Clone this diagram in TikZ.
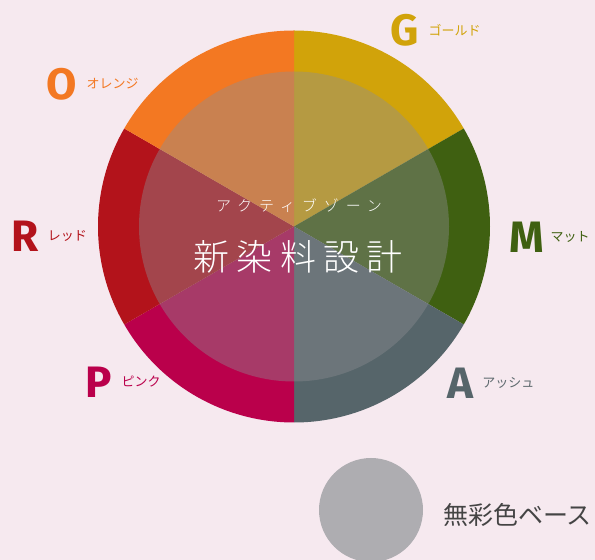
\documentclass[tikz,border=0pt]{standalone}
\usepackage{fontspec}
\usetikzlibrary{positioning}
\newfontfamily\jp{Noto Sans CJK JP}
\newfontfamily\jpwide[LetterSpace=46]{Noto Sans CJK JP Light}
\newfontfamily\jptitle[LetterSpace=20]{Noto Sans CJK JP Light}
\newfontfamily\din{Fira Sans}
\definecolor{bg}{RGB}{246,233,239}
\definecolor{cgold}{RGB}{209,163,10}
\definecolor{cgreen}{RGB}{63,96,17}
\definecolor{cash}{RGB}{86,101,106}
\definecolor{cpink}{RGB}{186,0,75}
\definecolor{cred}{RGB}{179,19,27}
\definecolor{corange}{RGB}{243,120,34}
\definecolor{ovl}{RGB}{141,142,146}
\definecolor{base}{RGB}{174,173,177}
\definecolor{txt}{RGB}{68,68,68}

\begin{document}
\begin{tikzpicture}[x=1pt,y=1pt,
  letter/.style={font=\din\bfseries\fontsize{44}{44}\selectfont, inner sep=0pt},
  kana/.style={font=\jp\fontsize{13}{13}\selectfont, inner sep=0pt, right=9pt of #1}]
  \fill [bg] (0,0) rectangle (595,560);
  \useasboundingbox (0,0) rectangle (595,560);

  % colour wheel
  \coordinate (c) at (294,333.5);
  \foreach \a/\col in {30/cgold, -30/cgreen, -90/cash, -150/cpink, 150/cred, 90/corange}
    \fill [\col] (c) -- ++(\a:196) arc (\a:\a+60:196) -- cycle;
  \fill [ovl, opacity=0.41] (c) circle (155);

  \node [font=\jpwide\fontsize{15}{15}\selectfont, white] (zone) at (299,354) {アクティブゾーン};
  \node [font=\jptitle\fontsize{36}{36}\selectfont, white] (title) at (298,303) {新染料設計};

  % labels
  \node [letter, cgold] (G) at (405,530) {G};
  \node [kana=G, cgold] (Gt) {ゴールド};
  \node [letter, corange] (O) at (62,476) {O};
  \node [kana=O, corange] (Ot) {オレンジ};
  \node [letter, cred] (R) at (25,324) {R};
  \node [kana=R, cred] (Rt) {レッド};
  \node [letter, cgreen] (M) at (527,323) {M};
  \node [kana=M, cgreen, right=6pt of M] (Mt) {マット};
  \node [letter, cpink] (P) at (99,178) {P};
  \node [kana=P, cpink] (Pt) {ピンク};
  \node [letter, cash] (A) at (460,177) {A};
  \node [kana=A, cash!80!gray] (At) {アッシュ};

  \fill [base] (371,50) circle (52);
  \node [font=\jp\fontsize{25}{25}\selectfont, txt, anchor=west, inner sep=0pt] (basetxt) at (443,45) {無彩色ベース};
\end{tikzpicture}
\end{document}
